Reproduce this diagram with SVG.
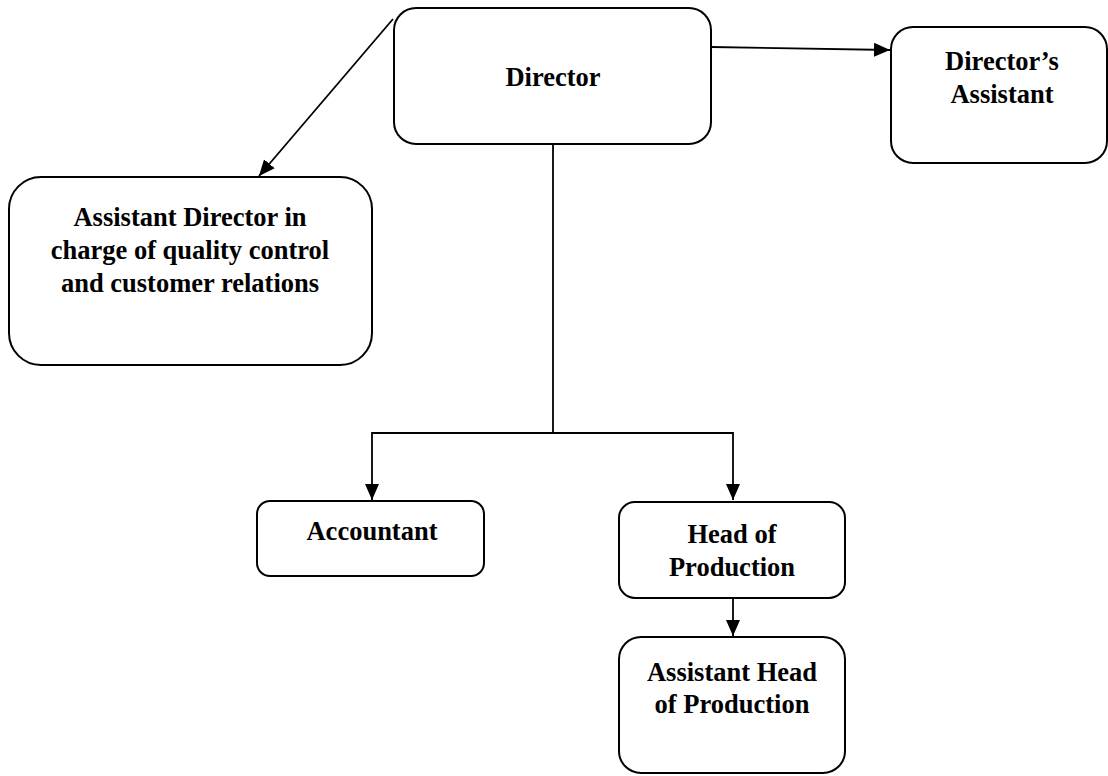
<svg xmlns="http://www.w3.org/2000/svg" width="1108" height="776" viewBox="0 0 1108 776">
<style>
.box{fill:#fff;stroke:#000;stroke-width:2}
.t{font-family:"Liberation Serif","DejaVu Serif",serif;font-weight:bold;font-size:26.5px;fill:#000;text-anchor:middle}
.c{fill:none;stroke:#000;stroke-width:1.8}
</style>
<defs>
<marker id="ah" markerUnits="userSpaceOnUse" markerWidth="16" markerHeight="14" viewBox="0 0 16 14" refX="16" refY="7" orient="auto">
<path d="M0,0 L16,7 L0,14 Z" fill="#000"/>
</marker>
</defs>
<g id="connectors">
<line class="c" x1="393" y1="19" x2="259" y2="176" marker-end="url(#ah)"/>
<line class="c" x1="711" y1="47" x2="890" y2="50" marker-end="url(#ah)"/>
<polyline class="c" points="553,144 553,433"/>
<polyline class="c" points="553,433 372,433 372,500" marker-end="url(#ah)"/>
<polyline class="c" points="553,433 733,433 733,500" marker-end="url(#ah)"/>
<line class="c" x1="733" y1="591" x2="733" y2="636" marker-end="url(#ah)"/>
</g>
<g id="director">
<rect class="box" x="394" y="8" width="317" height="136" rx="22"/>
<text class="t" x="553" y="86">Director</text>
</g>
<g id="directors-assistant">
<rect class="box" x="891" y="27" width="216" height="136" rx="22"/>
<text class="t" x="1002" y="70">Director’s</text>
<text class="t" x="1002" y="103">Assistant</text>
</g>
<g id="assistant-director">
<rect class="box" x="9" y="177" width="363" height="188" rx="32"/>
<text class="t" x="190" y="226">Assistant Director in</text>
<text class="t" x="190" y="259">charge of quality control</text>
<text class="t" x="190" y="292">and customer relations</text>
</g>
<g id="accountant">
<rect class="box" x="257" y="501" width="227" height="75" rx="13"/>
<text class="t" x="372" y="540">Accountant</text>
</g>
<g id="head-of-production">
<rect class="box" x="619" y="502" width="226" height="96" rx="16"/>
<text class="t" x="732" y="543">Head of</text>
<text class="t" x="732" y="576">Production</text>
</g>
<g id="assistant-head-of-production">
<rect class="box" x="619" y="637" width="226" height="136" rx="22"/>
<text class="t" x="732" y="681">Assistant Head</text>
<text class="t" x="732" y="713">of Production</text>
</g>
</svg>
